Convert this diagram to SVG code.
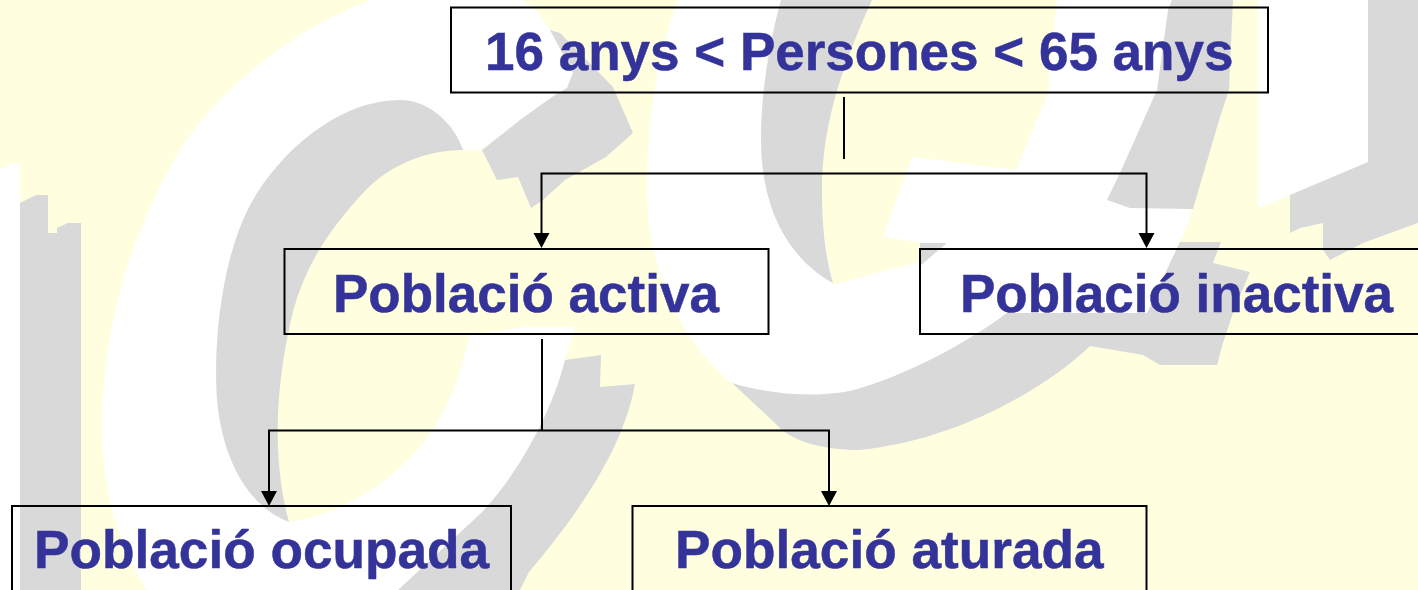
<svg xmlns="http://www.w3.org/2000/svg" width="1418" height="590" viewBox="0 0 1418 590">
  <style>
    .white { fill: #FFFFFF; }
    .cream { fill: #FFFFE0; }
    .grey { fill: #D9D9D9; }
    .box { fill: none; stroke: #000000; stroke-width: 2; }
    .label { font-family: "Liberation Sans", Arial, sans-serif; font-weight: bold; font-size: 53.2px; fill: #333399; stroke: #333399; stroke-width: 0.5; }
    .conn { fill: none; stroke: #000000; stroke-width: 2; }
  </style>
  <defs>
    <marker id="arrow" markerUnits="userSpaceOnUse" markerWidth="16" markerHeight="18" refX="0" refY="8" orient="auto" viewBox="0 0 16 16">
      <path d="M0,0 L15,8 L0,16 Z" fill="#000000"/>
    </marker>
  </defs>
  <g id="background">
    <rect class="cream" width="1418" height="590"/>
    <polygon class="white" points="0,170 13,163 20,163 20,590 0,590"/>
    <polygon class="grey" points="20,203 28,199 36,195 48,195 48,233 57,233 57,228 68,223 81,223 81,590 20,590"/>
    <path class="white" d="M147,590 C120,550 102,490 102,430 C102,340 125,240 183,145 C220,90 290,30 371,0 H523 L537,10 L550,30 L573,73 L567,88 L552,97 L482,150 L463,150 L400,120 L280,200 L245,400 L289,522 C340,515 400,480 434,428 C455,395 462,365 470,335 L525,327 L575,327 L565,360 C550,420 510,485 479,515 L398,590 Z"/>
    <path class="grey" d="M289,522 C245,505 222,455 217,400 C213,340 222,260 249,207 C280,150 340,100 400,100 C430,100 455,125 463,150 C420,150 385,170 366,190 C330,228 300,270 289,330 C276,390 272,460 289,522 Z"/>
    <polygon class="grey" points="550,30 560,33 613,87 633,133 606,157 565,180 543,200 531,208 518,177 497,180 482,150 520,120 552,97 567,88 573,73"/>
    <path class="grey" d="M398,590 L479,515 C510,485 550,420 565,360 L601,355 L600,387 L635,384 C625,440 590,500 529,572 L520,590 Z"/>
    <path class="white" d="M678,0 H1172 L1157,90 L1107,200 L1193,210 L1180,242 L1147,313 H1007 C950,355 890,380 854,390 C820,398 770,395 732,383 C700,360 647,290 647,190 C647,110 660,50 678,0 Z"/>
    <polygon class="cream" points="872,0 1057,0 1048,93 1016,170 912,157 883,237 925,243 920,262 880,272 833,285 822,227 822,150 840,67"/>
    <path class="grey" d="M781,0 H872 C845,60 822,120 822,190 C822,227 825,255 833,283 C790,260 761,210 761,140 C761,90 770,40 781,0 Z"/>
    <polygon class="grey" points="1172,0 1233,0 1229,90 1220,117 1193,209 1130,208 1107,200 1120,173 1157,90 1168,10"/>
    <polygon class="white" points="1258,0 1368,0 1368,162 1290,195 1258,208"/>
    <polygon class="grey" points="1368,0 1418,0 1418,223 1363,243 1330,260 1323,250 1323,223 1300,228 1290,233 1290,195 1368,162"/>
    <polygon class="grey" points="920,243 947,243 920,266"/>
    <path class="grey" d="M732,383 C770,395 820,398 854,390 C890,380 950,355 1007,313 H1147 L1170,263 L1180,242 H1221 L1213,263 L1250,272 L1233,313 L1223,343 L1217,365 H1160 L1143,355 L1090,346 C1050,385 960,440 860,450 C820,450 790,440 777,425 Z"/>
  </g>
  <g id="connectors">
    <path class="conn" d="M844,97 V159"/>
    <path class="conn" d="M844,173.5 H541.5 V233" marker-end="url(#arrow)"/>
    <path class="conn" d="M844,173.5 H1146.5 V233" marker-end="url(#arrow)"/>
    <path class="conn" d="M542,339 V430"/>
    <path class="conn" d="M542,430.5 H269 V491" marker-end="url(#arrow)"/>
    <path class="conn" d="M542,430.5 H829 V491" marker-end="url(#arrow)"/>
  </g>
  <g id="node-persones">
    <rect class="box" x="451" y="7.5" width="817" height="85"/>
    <text class="label" x="485" y="70" style="font-size:53px">16 anys &lt; Persones &lt; 65 anys</text>
  </g>
  <g id="node-activa">
    <rect class="box" x="284.5" y="249" width="484" height="85"/>
    <text class="label" x="333" y="312" style="font-size:53px">Població activa</text>
  </g>
  <g id="node-inactiva">
    <rect class="box" x="920" y="249" width="510" height="85"/>
    <text class="label" x="960" y="312" style="font-size:53px">Població inactiva</text>
  </g>
  <g id="node-ocupada">
    <rect class="box" x="12" y="506" width="499" height="100"/>
    <text class="label" x="34" y="568">Població ocupada</text>
  </g>
  <g id="node-aturada">
    <rect class="box" x="632.5" y="506" width="514" height="100"/>
    <text class="label" x="675" y="568">Població aturada</text>
  </g>
</svg>
